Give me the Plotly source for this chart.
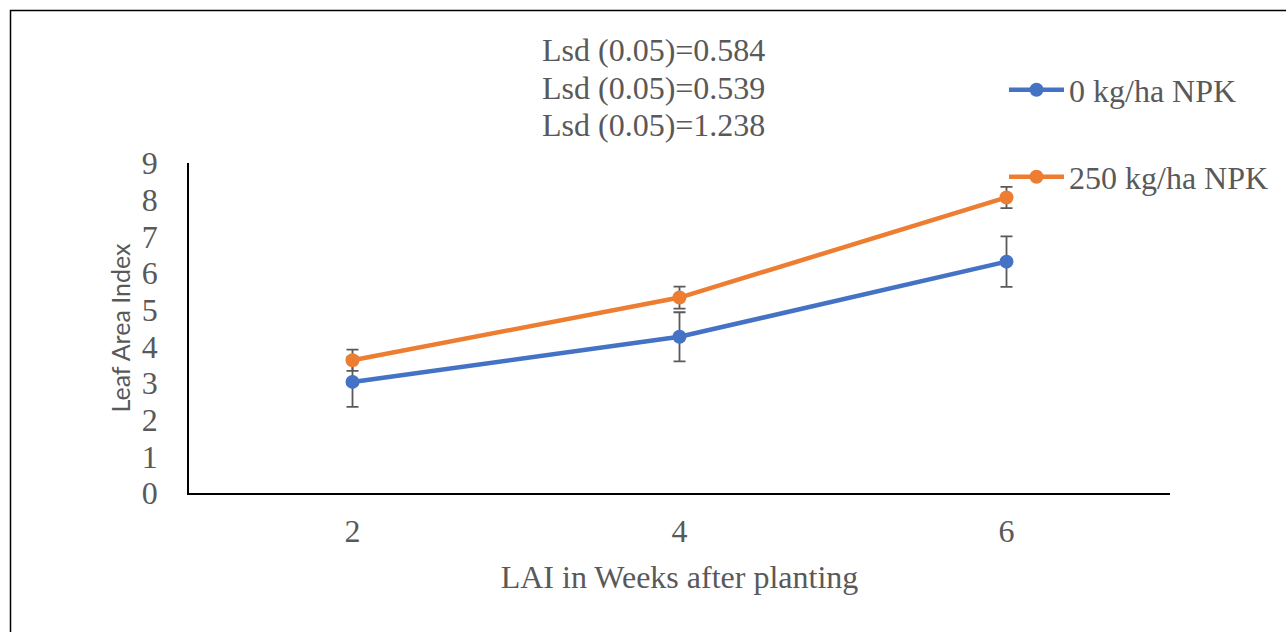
import plotly.graph_objects as go

weeks = ["2", "4", "6"]
lai_0npk = [3.03, 4.26, 6.31]
lai_250npk = [3.62, 5.33, 8.06]
err_0npk = [0.68, 0.67, 0.69]
err_250npk = [0.29, 0.30, 0.29]
series_names = ["0 kg/ha NPK", "250 kg/ha NPK"]
lsd_labels = ["Lsd (0.05)=0.584", "Lsd (0.05)=0.539", "Lsd (0.05)=1.238"]

W, H = 1286, 632
L, R, T, B = 189, 116, 163, 139
PW, PH = W - L - R, H - T - B

def px(xp):
    return (xp - L) / PW

def py(yp):
    return (H - B - yp) / PH

serif = "Liberation Serif, Times New Roman, serif"
grey = "#595959"
blue = "#4472C4"
orange = "#ED7D31"

fig = go.Figure()
fig.add_trace(go.Scatter(
    x=weeks, y=lai_0npk, name=series_names[0], mode="lines+markers",
    line=dict(color=blue, width=4.5), marker=dict(color=blue, size=14),
    error_y=dict(type="data", array=err_0npk, color=grey, thickness=1.8, width=6),
    legend="legend",
))
fig.add_trace(go.Scatter(
    x=weeks, y=lai_250npk, name=series_names[1], mode="lines+markers",
    line=dict(color=orange, width=4.5), marker=dict(color=orange, size=14),
    error_y=dict(type="data", array=err_250npk, color=grey, thickness=1.8, width=6),
    legend="legend2",
))

for i, txt in enumerate(lsd_labels):
    fig.add_annotation(
        x=px(653), y=py(50 + i * 37.5), xref="paper", yref="paper",
        text=txt, showarrow=False, xanchor="center", yanchor="middle",
        font=dict(family=serif, size=32, color=grey),
    )

fig.add_shape(type="rect", xref="paper", yref="paper",
              x0=px(10.5), x1=px(W + 20), y0=py(H + 20), y1=py(10.5),
              line=dict(color="black", width=1.5), fillcolor="rgba(0,0,0,0)", layer="below")

legend_common = dict(
    xref="paper", yref="paper", xanchor="left", yanchor="middle",
    font=dict(family=serif, size=32, color=grey), bgcolor="rgba(0,0,0,0)",
    itemwidth=55,
)

fig.update_layout(
    width=W, height=H,
    margin=dict(l=L, r=R, t=T, b=B),
    paper_bgcolor="white", plot_bgcolor="white",
    showlegend=True,
    legend=dict(x=px(1004), y=py(90), **legend_common),
    legend2=dict(x=px(1004), y=py(177), **legend_common),
    xaxis=dict(
        type="category", range=[-0.5, 2.5], showgrid=False,
        showline=True, linecolor="black", linewidth=1.5, ticks="",
        tickfont=dict(family=serif, size=32, color=grey), ticklabelstandoff=9,
        title=dict(text="LAI in Weeks after planting",
                   font=dict(family=serif, size=32, color=grey), standoff=17),
        zeroline=False,
    ),
    yaxis=dict(
        range=[0, 9], dtick=1, showgrid=False,
        showline=True, linecolor="black", linewidth=1.5, ticks="",
        tickfont=dict(family=serif, size=32, color=grey), ticklabelstandoff=23,
        title=dict(text="Leaf Area Index",
                   font=dict(family="Lato, Liberation Sans, sans-serif", size=25, color=grey),
                   standoff=4),
        zeroline=False,
    ),
)

fig.write_html("out.html")
